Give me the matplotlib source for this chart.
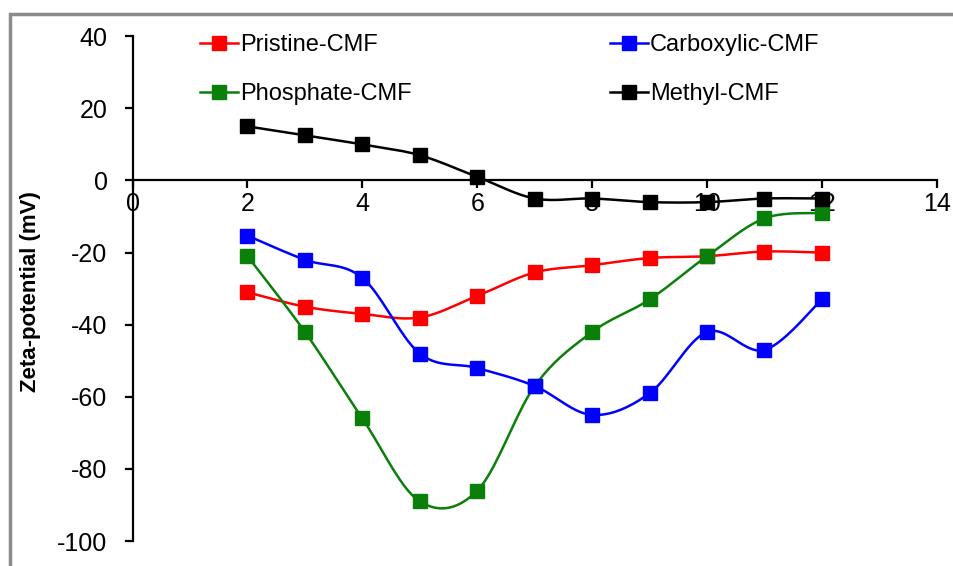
import matplotlib
matplotlib.use("Agg")
import matplotlib.pyplot as plt
from matplotlib.patches import Rectangle
import numpy as np

plt.rcParams['font.family'] = ['Liberation Sans', 'DejaVu Sans']
plt.rcParams['axes.unicode_minus'] = False

ph = [2, 3, 4, 5, 6, 7, 8, 9, 10, 11, 12]
pristine = [-31, -35, -37, -38, -32, -25.5, -23.5, -21.5, -21, -19.7, -20]
carboxylic = [-15.3, -22, -27, -48, -52, -57, -65, -59, -42, -47, -33]
phosphate = [-21, -42, -66, -89, -86, -57, -42, -33, -21, -10.5, -9]
methyl = [15, 12.5, 10, 7, 1, -5, -5, -6, -6, -5, -5]

series = [
    ("Pristine-CMF", pristine, "#ff0000"),
    ("Phosphate-CMF", phosphate, "#0a800a"),
    ("Carboxylic-CMF", carboxylic, "#0000ff"),
    ("Methyl-CMF", methyl, "#000000"),
]

STEPS = 20


def smooth(xs, ys):
    # excel-style smoothed line: cubic bezier with catmull-rom control points
    p = np.column_stack([xs, ys]).astype(float)
    n = len(p)
    t = np.linspace(0, 1, STEPS, endpoint=False)[:, None]
    out = []
    for i in range(n - 1):
        p0 = p[max(i - 1, 0)]
        p1 = p[i]
        p2 = p[i + 1]
        p3 = p[min(i + 2, n - 1)]
        c1 = p1 + (p2 - p0) / 6
        c2 = p2 - (p3 - p1) / 6
        seg = ((1 - t) ** 3) * p1 + 3 * ((1 - t) ** 2) * t * c1 + 3 * (1 - t) * t ** 2 * c2 + t ** 3 * p2
        out.append(seg)
    out.append(p[-1:])
    out = np.vstack(out)
    return out[:, 0], out[:, 1]


fig = plt.figure(figsize=(9.54, 5.66), dpi=100)
ax = fig.add_axes([0.139, 0.044, 0.843, 0.892])

for name, vals, col in series:
    sx, sy = smooth(ph, vals)
    marks = list(range(0, len(sx), STEPS))
    ax.plot(sx, sy, color=col, lw=1.8, marker='s', ms=10, markevery=marks,
            label=name, zorder=3)

ax.set_xlim(0, 14)
ax.set_ylim(-100, 40)
ax.set_xticks(range(0, 15, 2))
ax.set_yticks(range(-100, 41, 20))

ax.spines['right'].set_visible(False)
ax.spines['top'].set_visible(False)
ax.spines['bottom'].set_position(('data', 0))
ax.spines['bottom'].set_linewidth(1.6)
ax.spines['left'].set_linewidth(1.6)
ax.tick_params(axis='both', direction='out', length=6, width=1.6, labelsize=18)
ax.tick_params(axis='x', pad=2)
ax.tick_params(axis='y', pad=12)

fig.text(31 / 954, 1 - 292 / 566, "Zeta-potential (mV)", rotation=90,
         ha='center', va='center', fontsize=16, fontweight='bold')

ax.legend(ncol=2, loc='upper left', bbox_to_anchor=(200 / 954, 1 - 34 / 566),
          bbox_transform=fig.transFigure, frameon=False, fontsize=17,
          handlelength=1.6, handletextpad=0.1, columnspacing=8.4,
          labelspacing=1.15, borderpad=0, borderaxespad=0)

# grey frame round the chart area
fig.patches.append(Rectangle((10 / 954, -0.05), 1.1, 1.05 - 14 / 566,
                             transform=fig.transFigure, fill=False,
                             edgecolor='#8c8c8c', lw=2.5, figure=fig))

fig.savefig("out.png", dpi=100)
